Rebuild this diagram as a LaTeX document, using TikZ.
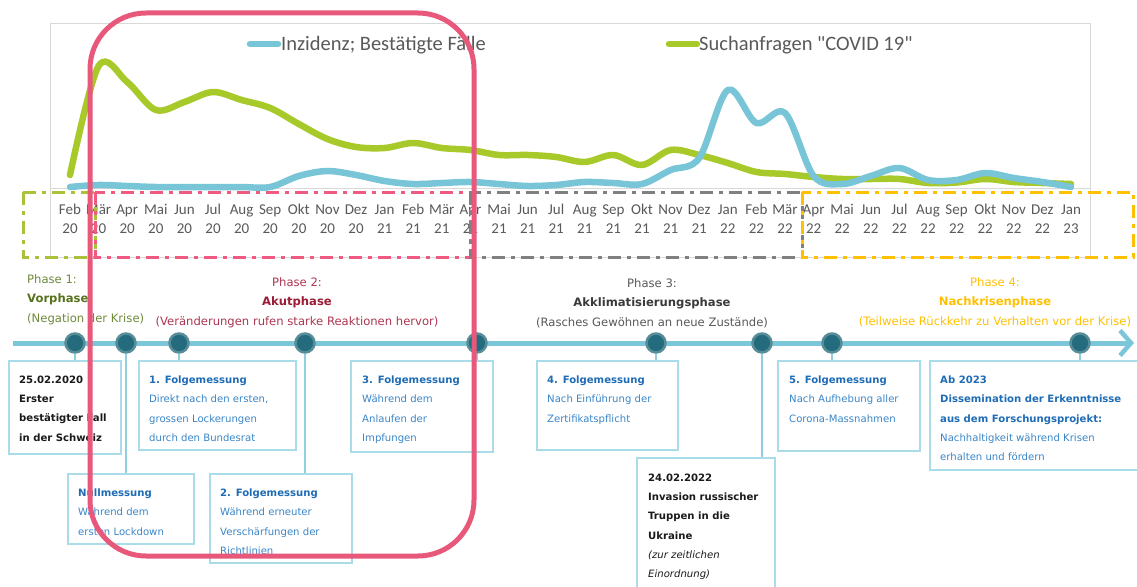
\documentclass[tikz,border=0pt]{standalone}
\usepackage{fontspec}
\setmainfont{DejaVu Sans}
\newfontfamily\chartfont{Carlito}
\usetikzlibrary{arrows.meta}

\definecolor{incblue}{HTML}{78C5D8}
\definecolor{searchgreen}{HTML}{A8C92A}
\definecolor{framegray}{HTML}{D9D9D9}
\definecolor{labelgray}{HTML}{595959}
\definecolor{phaseone}{HTML}{6F8A3A}
\definecolor{phaseonedark}{HTML}{56721C}
\definecolor{phasetwo}{HTML}{AD3552}
\definecolor{phasetwodark}{HTML}{9A1C36}
\definecolor{phasethree}{HTML}{595959}
\definecolor{phasethreedark}{HTML}{3A3A3A}
\definecolor{phasefour}{HTML}{FFC000}
\definecolor{dashgreen}{HTML}{A8C23A}
\definecolor{dashpink}{HTML}{EE5A80}
\definecolor{dashgray}{HTML}{808080}
\definecolor{accentpink}{HTML}{E8587A}
\definecolor{timeline}{HTML}{7CC6D9}
\definecolor{dotfill}{HTML}{246C7D}
\definecolor{dotring}{HTML}{568D99}
\definecolor{boxline}{HTML}{A9DCE8}
\definecolor{stemline}{HTML}{8FCFDF}
\definecolor{hdblue}{HTML}{1E6CB6}
\definecolor{txblue}{HTML}{3A86C8}
\definecolor{txblack}{HTML}{1A1A1A}

\begin{document}
\begin{tikzpicture}[x=1pt,y=-1pt,
  curve/.style={line width=6.5pt,line cap=round,line join=round},
  monthlbl/.style={font=\chartfont\fontsize{15}{19}\selectfont,text=labelgray,align=center,inner sep=0pt},
  legendlbl/.style={font=\chartfont\fontsize{20.5}{24}\selectfont,text=labelgray,anchor=west,inner sep=0pt},
  phasebox/.style={line width=3pt,dash pattern=on 13pt off 6pt on 4pt off 6pt},
  phaselbl/.style={font=\fontsize{11.6}{19.5}\selectfont,inner sep=0pt},
  dot/.style={circle,minimum size=19pt,inner sep=0pt,fill=dotfill,draw=dotring,line width=2.5pt},
  eventbox/.style={draw=boxline,line width=1.5pt,rectangle,inner sep=0pt,anchor=north west},
  eventtxt/.style={font=\fontsize{10.1}{19.33}\selectfont,align=left,anchor=north west,inner sep=0pt},
  stem/.style={draw=stemline,line width=1.5pt}
]
\useasboundingbox (0,0) rectangle (1137,586);
\fill[white] (0,0) rectangle (1137,586);

% ---- chart area ----
\draw[framegray,line width=1pt] (50,24) rectangle (1090,257);
\draw[framegray,line width=1pt] (50,188) -- (1090,188);

% legend
\coordinate (lgb0) at (250,44); \coordinate (lgb1) at (278,44);
\draw[curve,incblue] (lgb0) -- (lgb1);
\node[legendlbl] (lgbt) at (281,45) {Inzidenz; Bestätigte Fälle};
\coordinate (lgg0) at (669,44); \coordinate (lgg1) at (697,44);
\draw[curve,searchgreen] (lgg0) -- (lgg1);
\node[legendlbl] (lggt) at (699,45) {Suchanfragen "COVID 19"};

% search queries
\draw[curve,searchgreen] plot[smooth,tension=0.55] coordinates {
 (70,175) (98.6,66) (127.2,82) (155.8,110) (184.4,102) (213,92) (241.6,100)
 (270.2,108) (298.8,124) (327.4,139) (356,147) (384.6,148) (413.2,143)
 (441.8,148) (470.4,150) (499,155) (527.6,155) (556.2,157) (584.8,162)
 (613.4,155) (642,165) (670.6,150) (699.2,155) (727.8,163) (756.4,172)
 (785,174) (813.6,177) (842.2,179) (870.8,179) (899.4,179) (928,183)
 (956.6,182.5) (985.2,179) (1013.8,182) (1042.4,183) (1071,184)};

% confirmed cases
\draw[curve,incblue] plot[smooth,tension=0.55] coordinates {
 (70,187) (98.6,185) (127.2,186) (155.8,187) (184.4,187) (213,187) (241.6,187)
 (270.2,187) (298.8,176) (327.4,171) (356,175) (384.6,181) (413.2,184)
 (441.8,183) (470.4,182) (499,184) (527.6,186) (556.2,185) (584.8,182)
 (613.4,183) (642,184) (670.6,170) (699.2,158) (727.8,90) (756.4,123)
 (785,113) (813.6,176) (842.2,184) (870.8,176) (899.4,168) (928,180)
 (956.6,180) (985.2,173) (1013.8,178) (1042.4,182) (1071,187)};

% month labels
\foreach \m/\yr [count=\i from 0] in {Feb/20,Mär/20,Apr/20,Mai/20,Jun/20,Jul/20,Aug/20,Sep/20,Okt/20,Nov/20,Dez/20,
  Jan/21,Feb/21,Mär/21,Apr/21,Mai/21,Jun/21,Jul/21,Aug/21,Sep/21,Okt/21,Nov/21,Dez/21,
  Jan/22,Feb/22,Mär/22,Apr/22,Mai/22,Jun/22,Jul/22,Aug/22,Sep/22,Okt/22,Nov/22,Dez/22,Jan/23}
  \node[monthlbl] (m\i) at ({70+28.6*\i},219) {\m\\\yr};

% phase ranges along the axis
\draw[phasebox,dashgreen] (23,192) rectangle (95,257);
\draw[phasebox,dashpink] (95,192) rectangle (470,257);
\draw[phasebox,dashgray] (470,192) rectangle (802,257);
\draw[phasebox,phasefour] (802,192) rectangle (1133,257);

% ---- phase captions ----
\node[phaselbl,anchor=north west,align=left,text=phaseone] (p1) at (27,274.4)
  {Phase 1:\\\textcolor{phaseonedark}{\textbf{Vorphase}}\\(Negation der Krise)};
\node[phaselbl,anchor=north,align=center,text=phasetwo] (p2) at (297,277.4)
  {Phase 2:\\\textcolor{phasetwodark}{\textbf{Akutphase}}\\(Veränderungen rufen starke Reaktionen hervor)};
\node[phaselbl,anchor=north,align=center,text=phasethree] (p3) at (652,278.4)
  {Phase 3:\\\textcolor{phasethreedark}{\textbf{Akklimatisierungsphase}}\\(Rasches Gewöhnen an neue Zustände)};
\node[phaselbl,anchor=north,align=center,text=phasefour] (p4) at (995,277.4)
  {Phase 4:\\\textbf{Nachkrisenphase}\\(Teilweise Rückkehr zu Verhalten vor der Krise)};

% ---- timeline ----
\coordinate (tl0) at (13,343);
\coordinate (tl1) at (1134,343);
\draw[timeline,line width=5pt,-{Straight Barb[length=11pt,width=25pt,line width=4.5pt]}] (tl0) -- (tl1);

% event boxes
\node[eventbox,minimum width=112pt,minimum height=93pt] (b1) at (8,360) {};
\node[eventbox,minimum width=126pt,minimum height=70pt] (b2) at (67,473) {};
\node[eventbox,minimum width=157pt,minimum height=89pt] (b3) at (138,360) {};
\node[eventbox,minimum width=142pt,minimum height=89pt] (b4) at (209,473) {};
\node[eventbox,minimum width=142pt,minimum height=91pt] (b5) at (350,360) {};
\node[eventbox,minimum width=141pt,minimum height=89pt] (b6) at (536,360) {};
\node[eventbox,minimum width=138pt,minimum height=150pt] (b7) at (636,457) {};
\node[eventbox,minimum width=142pt,minimum height=90pt] (b8) at (777,360) {};
\node[eventbox,minimum width=220pt,minimum height=109pt] (b9) at (929,360) {};

% dots on the timeline
\foreach \n/\x in {1/75,2/126,3/179,4/305,5/477,6/656,7/762,8/832,9/1080}
  \node[dot] (d\n) at (\x,343) {};

% stems from dots to boxes
\foreach \n in {1,...,9}
  \draw[stem] (d\n.south) -- (d\n.south |- b\n.north);

% box texts
\node[eventtxt,text=txblack] (t1) at (19,375.5)
  {\textbf{25.02.2020}\\\textbf{Erster}\\\textbf{bestätigter Fall}\\\textbf{in der Schweiz}};
\node[eventtxt,text=txblue] (t2) at (78,488.5)
  {\textcolor{hdblue}{\textbf{Nullmessung}}\\Während dem\\ersten Lockdown};
\node[eventtxt,text=txblue] (t3) at (149,375.5)
  {\textcolor{hdblue}{\textbf{1. Folgemessung}}\\Direkt nach den ersten,\\grossen Lockerungen\\durch den Bundesrat};
\node[eventtxt,text=txblue] (t4) at (220,488.5)
  {\textcolor{hdblue}{\textbf{2. Folgemessung}}\\Während erneuter\\Verschärfungen der\\Richtlinien};
\node[eventtxt,text=txblue] (t5) at (362,375.5)
  {\textcolor{hdblue}{\textbf{3. Folgemessung}}\\Während dem\\Anlaufen der\\Impfungen};
\node[eventtxt,text=txblue] (t6) at (547,375.5)
  {\textcolor{hdblue}{\textbf{4. Folgemessung}}\\Nach Einführung der\\Zertifikatspflicht};
\node[eventtxt,text=txblack] (t7) at (648,473.5)
  {\textbf{24.02.2022}\\\textbf{Invasion russischer}\\\textbf{Truppen in die}\\\textbf{Ukraine}\\\textit{(zur zeitlichen}\\\textit{Einordnung)}};
\node[eventtxt,text=txblue] (t8) at (789,375.5)
  {\textcolor{hdblue}{\textbf{5. Folgemessung}}\\Nach Aufhebung aller\\Corona-Massnahmen};
\node[eventtxt,text=txblue] (t9) at (940,375.5)
  {\textcolor{hdblue}{\textbf{Ab 2023}}\\\textcolor{hdblue}{\textbf{Dissemination der Erkenntnisse}}\\\textcolor{hdblue}{\textbf{aus dem Forschungsprojekt:}}\\Nachhaltigkeit während Krisen\\erhalten und fördern};

% highlight frame around the acute phase
\draw[accentpink,line width=5pt,rounded corners=56pt] (90,13) rectangle (474,556);
\end{tikzpicture}
\end{document}
